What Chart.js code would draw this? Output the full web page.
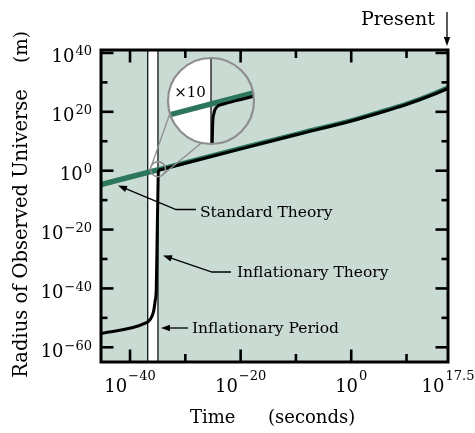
<!DOCTYPE html>
<html><head><meta charset="utf-8">
<script src="https://cdn.jsdelivr.net/npm/chart.js@4.4.0/dist/chart.umd.min.js"></script>
<style>html,body{margin:0;padding:0;background:#fff;}#wrap{width:475px;height:433px;}</style>
</head><body><div id="wrap"><canvas id="c" width="475" height="433"></canvas></div>
<script>
// ---- data (log10 values) ----
const timeRange = [-45.25, 17.5];     // log10(t / s)
const radiusRange = [-65, 41];        // log10(R / m)
const xMajorTicks = [-40, -20, 0];
const xMinorTicks = [-30, -10, 10];
const xLabelValues = [-40, -20, 0, 17.5];
const xLabelExps = ['\u221240', '\u221220', '0', '17.5'];
const yMajorTicks = [-60, -40, -20, 0, 20, 40];
const yMinorTicks = [-50, -30, -10, 10, 30];
const yLabelExps = ['\u221260', '\u221240', '\u221220', '0', '20', '40'];

const stdTime   = [-45.25, -35, -20, -10, 0, 5, 10, 15, 17.5];
const stdRadius = [-4.75, 0.3, 7.6, 12.4, 17.1, 19.8, 22.7, 26.2, 28.2];

const inflTime   = [-45.25, -37.25, -36.35, -35.75, -35.44, -35.26, -35.08, -34.92, -34.9, -34.86, -34.78, -34.55, -34, -30, -20, -10, 0, 5, 10, 15, 17.5];
const inflRadius = [-55.3, -51.8, -50.5, -47.9, -44, -40.5, -20.3, -3, -1.0, -0.25, 0.12, 0.32, 0.59, 2.55, 7.4, 12.2, 16.9, 19.6, 22.5, 26.0, 28.0];

const inflationPeriod = [-36.8, -34.95];
const insetFocus = [-34.95, 0.5];

// ---- styles ----
const BG = '#c9dbd2', GREEN = '#2c765c', GRAY = '#8e8e8e';
const FONT = '"DejaVu Serif", serif';

function supLabel(ctx, base, exp, x, y, align, bs, ss, raise) {
  ctx.font = bs + 'px ' + FONT; const wb = ctx.measureText(base).width;
  ctx.font = ss + 'px ' + FONT; const we = ctx.measureText(exp).width;
  const total = wb + we + 1;
  const left = align === 'center' ? x - total / 2 : align === 'right' ? x - total : x;
  ctx.textAlign = 'left'; ctx.textBaseline = 'alphabetic'; ctx.fillStyle = '#000';
  ctx.font = bs + 'px ' + FONT; ctx.fillText(base, left, y);
  ctx.font = ss + 'px ' + FONT; ctx.fillText(exp, left + wb + 1, y - raise);
}
function line(ctx, x1, y1, x2, y2) { ctx.beginPath(); ctx.moveTo(x1, y1); ctx.lineTo(x2, y2); ctx.stroke(); }
function arrow(ctx, pts, color) {
  const n = pts.length, [tx, ty] = pts[n - 1], [px, py] = pts[n - 2];
  const ang = Math.atan2(ty - py, tx - px), L = 9, W = 3.2;
  ctx.strokeStyle = color; ctx.fillStyle = color; ctx.lineWidth = 1.3;
  ctx.beginPath(); ctx.moveTo(pts[0][0], pts[0][1]);
  for (let i = 1; i < n - 1; i++) ctx.lineTo(pts[i][0], pts[i][1]);
  ctx.lineTo(tx - (L - 2) * Math.cos(ang), ty - (L - 2) * Math.sin(ang)); ctx.stroke();
  ctx.beginPath(); ctx.moveTo(tx, ty);
  ctx.lineTo(tx - L * Math.cos(ang) + W * Math.sin(ang), ty - L * Math.sin(ang) - W * Math.cos(ang));
  ctx.lineTo(tx - L * Math.cos(ang) - W * Math.sin(ang), ty - L * Math.sin(ang) + W * Math.cos(ang));
  ctx.closePath(); ctx.fill();
}
function tracePath(ctx, pts) {
  ctx.beginPath(); ctx.moveTo(pts[0].x, pts[0].y);
  for (let i = 1; i < pts.length; i++) {
    const p = pts[i - 1], c = pts[i];
    if (p.cp2x !== undefined && c.cp1x !== undefined) ctx.bezierCurveTo(p.cp2x, p.cp2y, c.cp1x, c.cp1y, c.x, c.y);
    else ctx.lineTo(c.x, c.y);
  }
}

const backPlugin = {
  id: 'back',
  beforeDatasetsDraw(chart) {
    const ctx = chart.ctx, a = chart.chartArea, xs = chart.scales.x;
    ctx.save();
    ctx.fillStyle = BG; ctx.fillRect(a.left, a.top, a.right - a.left, a.bottom - a.top);
    const b0 = xs.getPixelForValue(inflationPeriod[0]), b1 = xs.getPixelForValue(inflationPeriod[1]);
    ctx.fillStyle = '#fff'; ctx.fillRect(b0, a.top, b1 - b0, a.bottom - a.top);
    ctx.strokeStyle = '#000'; ctx.lineWidth = 1.2;
    line(ctx, b0, a.top, b0, a.bottom); line(ctx, b1, a.top, b1, a.bottom);
    ctx.restore();
  }
};

const frontPlugin = {
  id: 'front',
  afterDatasetsDraw(chart) {
    const ctx = chart.ctx, a = chart.chartArea, xs = chart.scales.x, ys = chart.scales.y;
    ctx.save();
    // ---- inset magnifier ----
    const cx = 211, cy = 101, R = 43, r = 7.5, k = R / r;
    const fx = xs.getPixelForValue(insetFocus[0]), fy = ys.getPixelForValue(insetFocus[1]);
    ctx.save();
    ctx.beginPath(); ctx.arc(cx, cy, R, 0, Math.PI * 2); ctx.clip();
    ctx.fillStyle = BG; ctx.fillRect(cx - R, cy - R, 2 * R, 2 * R);
    ctx.translate(cx, cy); ctx.scale(k, k); ctx.translate(-fx, -fy);
    const b0 = xs.getPixelForValue(inflationPeriod[0]), b1 = xs.getPixelForValue(inflationPeriod[1]);
    ctx.fillStyle = '#fff'; ctx.fillRect(b0, fy - R / k - 2, b1 - b0, 2 * R / k + 4);
    ctx.strokeStyle = '#000'; ctx.lineWidth = 1.2 / k;
    line(ctx, b0, fy - R / k - 2, b0, fy + R / k + 2); line(ctx, b1, fy - R / k - 2, b1, fy + R / k + 2);
    chart.data.datasets.forEach((ds, i) => {
      const meta = chart.getDatasetMeta(i);
      ctx.strokeStyle = ds.borderColor; ctx.lineWidth = ds.borderWidth / k; ctx.lineJoin = 'round';
      tracePath(ctx, meta.data); ctx.stroke();
    });
    ctx.restore();
    ctx.fillStyle = '#000'; ctx.font = '15px ' + FONT; ctx.textAlign = 'center'; ctx.textBaseline = 'alphabetic';
    ctx.fillText('\u00d710', 190, 97);
    ctx.strokeStyle = GRAY; ctx.lineWidth = 2.2;
    ctx.beginPath(); ctx.arc(cx, cy, R, 0, Math.PI * 2); ctx.stroke();
    ctx.lineWidth = 1.6;
    ctx.beginPath(); ctx.arc(fx, fy, r, 0, Math.PI * 2); ctx.stroke();
    ctx.lineWidth = 1.3;
    const conn = [[214, 163], [37, 103]];
    conn.forEach(([sa, ba]) => {
      const s = sa * Math.PI / 180, b = ba * Math.PI / 180;
      line(ctx, fx + r * Math.cos(s), fy + r * Math.sin(s), cx + R * Math.cos(b), cy + R * Math.sin(b));
    });

    // ---- frame & ticks ----
    ctx.strokeStyle = '#000'; ctx.lineCap = 'butt';
    ctx.lineWidth = 2.6;
    xMajorTicks.forEach(v => { const x = xs.getPixelForValue(v); line(ctx, x, a.bottom, x, a.bottom - 12.5); line(ctx, x, a.top, x, a.top + 12.5); });
    xMinorTicks.forEach(v => { const x = xs.getPixelForValue(v); line(ctx, x, a.bottom, x, a.bottom - 8); line(ctx, x, a.top, x, a.top + 8); });
    yMajorTicks.forEach(v => { const y = ys.getPixelForValue(v); line(ctx, a.left, y, a.left + 12.5, y); line(ctx, a.right, y, a.right - 12.5, y); });
    yMinorTicks.forEach(v => { const y = ys.getPixelForValue(v); line(ctx, a.left, y, a.left + 6.5, y); line(ctx, a.right, y, a.right - 6.5, y); });
    ctx.lineWidth = 3;
    ctx.strokeRect(a.left, a.top, a.right - a.left, a.bottom - a.top);

    // ---- tick labels ----
    xLabelValues.forEach((v, i) => supLabel(ctx, '10', xLabelExps[i], xs.getPixelForValue(v), 392, 'center', 18, 13, 12));
    yMajorTicks.forEach((v, i) => supLabel(ctx, '10', yLabelExps[i], 92, ys.getPixelForValue(v) + 9.5, 'right', 18, 13, 7));

    // ---- axis titles ----
    ctx.fillStyle = '#000'; ctx.font = '18px ' + FONT; ctx.textBaseline = 'alphabetic'; ctx.textAlign = 'left';
    ctx.fillText('Time', 190, 423);
    ctx.fillText('(seconds)', 268, 423);
    ctx.save(); ctx.translate(27, 0); ctx.rotate(-Math.PI / 2); ctx.textAlign = 'center';
    ctx.font = '19.5px ' + FONT;
    ctx.fillText('Radius of Observed Universe', -233.5, 0);
    ctx.font = '18.5px ' + FONT;
    ctx.fillText('(m)', -47, 0);
    ctx.restore();

    // ---- annotations ----
    ctx.font = '15.5px ' + FONT; ctx.textAlign = 'left'; ctx.fillStyle = '#000';
    ctx.fillText('Standard Theory', 200, 217);
    ctx.fillText('Inflationary Theory', 237, 277);
    ctx.fillText('Inflationary Period', 192, 333);
    ctx.font = '19px ' + FONT;
    ctx.fillText('Present', 361, 25);
    arrow(ctx, [[196, 209.5], [176, 209.5], [118, 185.5]], '#000');
    arrow(ctx, [[231, 272], [212, 272], [163, 255.5]], '#000');
    arrow(ctx, [[188, 328], [161, 328]], '#000');
    arrow(ctx, [[447, 12], [447, 46]], '#000');
    ctx.restore();
  }
};

new Chart(document.getElementById('c'), {
  type: 'line',
  data: {
    datasets: [
      { label: 'Standard Theory', data: stdTime.map((t, i) => ({ x: t, y: stdRadius[i] })), order: 2,
        borderColor: GREEN, borderWidth: 5.5, pointRadius: 0, cubicInterpolationMode: 'monotone', fill: false,
        segment: { borderWidth: c => (c.p0.parsed.x >= -35 ? 4.6 : undefined) } },
      { label: 'Inflationary Theory', data: inflTime.map((t, i) => ({ x: t, y: inflRadius[i] })), order: 1,
        borderColor: '#000', borderWidth: 3, pointRadius: 0, cubicInterpolationMode: 'monotone', fill: false }
    ]
  },
  options: {
    responsive: false, animation: false, devicePixelRatio: 1, events: [],
    layout: { padding: { left: 101, top: 50, right: 27, bottom: 71 } },
    scales: {
      x: { type: 'linear', min: timeRange[0], max: timeRange[1], display: false },
      y: { type: 'linear', min: radiusRange[0], max: radiusRange[1], display: false }
    },
    plugins: { legend: { display: false }, tooltip: { enabled: false } }
  },
  plugins: [backPlugin, frontPlugin]
});
</script>
</body></html>
